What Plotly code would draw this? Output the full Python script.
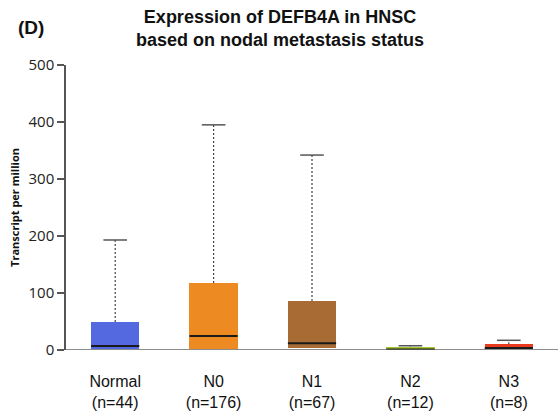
import plotly.graph_objects as go

# Groups and box statistics (transcripts per million)
groups = ["Normal", "N0", "N1", "N2", "N3"]
counts = [44, 176, 67, 12, 8]
q1 = [1, 2, 3, 0.5, 1]
median = [7, 24.5, 12, 1, 3.5]
q3 = [49, 117.5, 86, 6, 10]
upper = [193, 395, 342, 7.5, 17]
colors = ["#5468E0", "#EE8A22", "#A86B34", "#A9C82E", "#EA3A1E"]

tick_text = [f"{g}<br>(n={n})" for g, n in zip(groups, counts)]
xs = list(range(len(groups)))

fig = go.Figure()

# Interquartile boxes
fig.add_trace(go.Bar(
    x=xs, y=[b - a for a, b in zip(q1, q3)], base=q1,
    width=0.49, marker=dict(color=colors, line=dict(width=0)),
    hoverinfo="skip", showlegend=False,
))

half_box = 0.245
half_cap = 0.12
for i in xs:
    # dashed whisker from top of box to the upper fence
    fig.add_trace(go.Scatter(
        x=[i, i], y=[q3[i], upper[i]], mode="lines",
        line=dict(color="#444444", width=1.2, dash="2px,2px"),
        showlegend=False, hoverinfo="skip",
    ))
    # whisker cap
    fig.add_trace(go.Scatter(
        x=[i - half_cap, i + half_cap], y=[upper[i], upper[i]], mode="lines",
        line=dict(color="#555555", width=1.5),
        showlegend=False, hoverinfo="skip",
    ))
    # median line
    fig.add_trace(go.Scatter(
        x=[i - half_box, i + half_box], y=[median[i], median[i]], mode="lines",
        line=dict(color="#1a1a1a", width=2),
        showlegend=False, hoverinfo="skip",
    ))

fig.update_layout(
    width=559, height=415,
    margin=dict(l=66, r=1, t=65, b=65),
    paper_bgcolor="white", plot_bgcolor="white",
    font=dict(family="Liberation Sans, Arial, sans-serif", color="#111111"),
    bargap=0,
    xaxis=dict(
        range=[-0.5, 4.5], tickvals=xs, ticktext=tick_text,
        showgrid=False, zeroline=False, showline=False, ticks="",
        tickfont=dict(size=16, color="#111111"),
        ticklabelstandoff=20,
        fixedrange=True,
    ),
    yaxis=dict(
        range=[0, 500], tickvals=[0, 100, 200, 300, 400, 500],
        showgrid=False, zeroline=False,
        showline=True, linecolor="#555555", linewidth=1.5,
        ticks="outside", ticklen=7, tickwidth=1.5, tickcolor="#555555",
        tickfont=dict(size=15, color="#222222", family="Open Sans, sans-serif"),
        title=dict(text="<b>Transcript per million</b>",
                   font=dict(size=11, color="#111111", family="Open Sans, sans-serif"),
                   standoff=7),
    ),
    annotations=[
        dict(text="<b>Expression of DEFB4A in HNSC<br>based on nodal metastasis status</b>",
             xref="paper", yref="paper", x=(279.5 - 66) / 492, y=1, yshift=60,
             yanchor="top", xanchor="center",
             showarrow=False, font=dict(size=18, color="#111111"), align="center"),
        dict(text="<b>(D)</b>", xref="paper", yref="paper", x=0, xshift=-66 + 16,
             xanchor="left", y=1, yshift=38, yanchor="middle",
             showarrow=False, font=dict(size=19, color="#111111")),
    ],
    shapes=[
        # baseline along zero
        dict(type="line", xref="paper", yref="y", x0=0, x1=1, y0=0, y1=0,
             line=dict(color="#666666", width=1.5)),
    ],
)

fig.write_html("out.html")
